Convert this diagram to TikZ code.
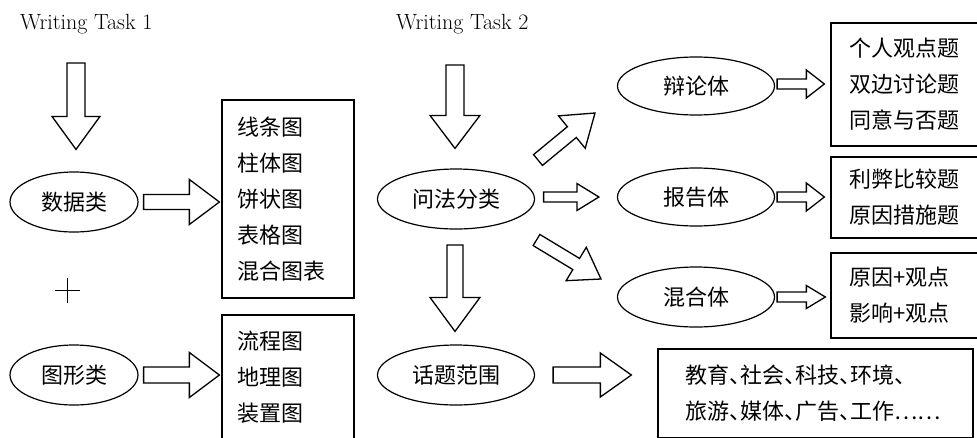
\documentclass[tikz,border=0pt]{standalone}
\usepackage{fontspec}
\newfontfamily\cjk{Noto Sans CJK SC}
\usetikzlibrary{calc,shapes.geometric}
\newcommand\dun{\makebox[0.5em][l]{、}}
\newcommand\blkarrow[5]{%
  \coordinate (bh) at ($(#2)!#5!(#1)$);
  \draw[blk] ($(#1)!#3!90:(#2)$) -- ($(bh)!#3!-90:(#1)$) -- ($(bh)!#4!-90:(#1)$) -- (#2)
    -- ($(bh)!#4!90:(#1)$) -- ($(bh)!#3!90:(#1)$) -- ($(#1)!#3!-90:(#2)$) -- cycle;}
\tikzset{
  ell/.style={draw, ellipse, line width=1.2pt, inner sep=0pt,
    font=\cjk\fontsize{22}{26}\selectfont},
  boxn/.style={draw, rectangle, line width=1.3pt, align=left, inner ysep=0pt,
    font=\cjk\fontsize{22}{36}\selectfont},
  blk/.style={draw, fill=white, line width=1.3pt, line join=miter},
  lbl/.style={font=\fontsize{22}{26}\selectfont, inner sep=0pt}
}
\begin{document}
\begin{tikzpicture}[x=1pt, y=-1pt]
\useasboundingbox (0,0) rectangle (977,437);
\clip (0,0) rectangle (977,437);
\fill[white] (0,0) rectangle (977,437);

% labels
\node[lbl, anchor=base west] (t1) at (20,29) {Writing Task 1};
\node[lbl, anchor=base west] (t2) at (396,29) {Writing Task 2};

% ellipses
\node[ell, minimum width=128, minimum height=60] (dat) at (74,202) {数据类};
\node[ell, minimum width=128, minimum height=60] (gfx) at (74,375) {图形类};
\node[ell, minimum width=157, minimum height=60] (wf) at (456,199) {问法分类};
\node[ell, minimum width=157, minimum height=60] (ht) at (456,375) {话题范围};
\node[ell, minimum width=157, minimum height=58] (bl) at (696,86) {辩论体};
\node[ell, minimum width=157, minimum height=58] (bg) at (696,197) {报告体};
\node[ell, minimum width=157, minimum height=60] (hh) at (696,297) {混合体};

% boxes
\node[boxn, text width=102, inner xsep=15, minimum height=198] (b1) at (288,199)
  {线条图\\柱体图\\饼状图\\表格图\\混合图表};
\node[boxn, text width=102, inner xsep=15, minimum height=124] (b2) at (288,377)
  {流程图\\地理图\\装置图};
\node[boxn, text width=134, inner xsep=18, minimum height=123] (bA) at (916,84.5)
  {个人观点题\\双边讨论题\\同意与否题};
\node[boxn, text width=134, inner xsep=18, minimum height=81] (bB) at (916,197.5)
  {利弊比较题\\原因措施题};
\node[boxn, text width=134, inner xsep=18, minimum height=85] (bC) at (916,295.5)
  {原因+观点\\影响+观点};
\node[boxn, text width=261, inner xsep=27, minimum height=89] (bT) at (815.5,393.5)
  {教育\dun 社会\dun 科技\dun 环境\dun\\旅游\dun 媒体\dun 广告\dun 工作……};

% plus sign
\draw[line width=1pt] (55,290) -- (80,290) (67.5,278) -- (67.5,303);

% arrow end points
\coordinate (a1s) at (76,63);
\coordinate (a1e) at ($(dat.north)+(2,-22)$);
\coordinate (a2s) at ($(dat.east)+(5,0)$);
\coordinate (a2e) at ($(b1.west |- dat.east)+(-2,0)$);
\coordinate (a3s) at ($(gfx.east)+(5,0)$);
\coordinate (a3e) at ($(b2.west |- gfx.east)+(-2,0)$);
\coordinate (a4s) at (455,65);
\coordinate (a4e) at ($(wf.north)+(-1,-20)$);
\coordinate (a5s) at ($(wf.east |- bg.west)+(8.5,0)$);
\coordinate (a5e) at ($(bg.west)+(-18,0)$);
\coordinate (a6s) at (538,160);
\coordinate (a6e) at (595,113);
\coordinate (a7s) at (536.5,240);
\coordinate (a7e) at (601,279);
\coordinate (a8s) at (455,245);
\coordinate (a8e) at ($(ht.north)+(-1,-13)$);
\coordinate (a9s) at ($(ht.east)+(18,0)$);
\coordinate (a9e) at ($(bT.west |- ht.east)+(-26,0)$);
\coordinate (a10s) at ($(bl.east)+(2,-2)$);
\coordinate (a10e) at ($(bA.west |- bl.east)+(-6,-2)$);
\coordinate (a11s) at ($(bg.east)+(2,0)$);
\coordinate (a11e) at ($(bB.west |- bg.east)+(-6,0)$);
\coordinate (a12s) at ($(hh.east)+(2,0)$);
\coordinate (a12e) at ($(bC.west |- hh.east)+(-5,0)$);

% block arrows
\blkarrow{a1s}{a1e}{9pt}{24pt}{33pt}
\blkarrow{a2s}{a2e}{7.5pt}{22.5pt}{30pt}
\blkarrow{a3s}{a3e}{8pt}{22.5pt}{30pt}
\blkarrow{a4s}{a4e}{9pt}{25pt}{33pt}
\blkarrow{a5s}{a5e}{5pt}{13.5pt}{22pt}
\blkarrow{a6s}{a6e}{7pt}{21pt}{30pt}
\blkarrow{a7s}{a7e}{6.5pt}{19.5pt}{29pt}
\blkarrow{a8s}{a8e}{8pt}{25pt}{34pt}
\blkarrow{a9s}{a9e}{8pt}{22pt}{31pt}
\blkarrow{a10s}{a10e}{5pt}{14pt}{18pt}
\blkarrow{a11s}{a11e}{5pt}{14pt}{18pt}
\blkarrow{a12s}{a12e}{5pt}{11.5pt}{19pt}
\end{tikzpicture}
\end{document}
